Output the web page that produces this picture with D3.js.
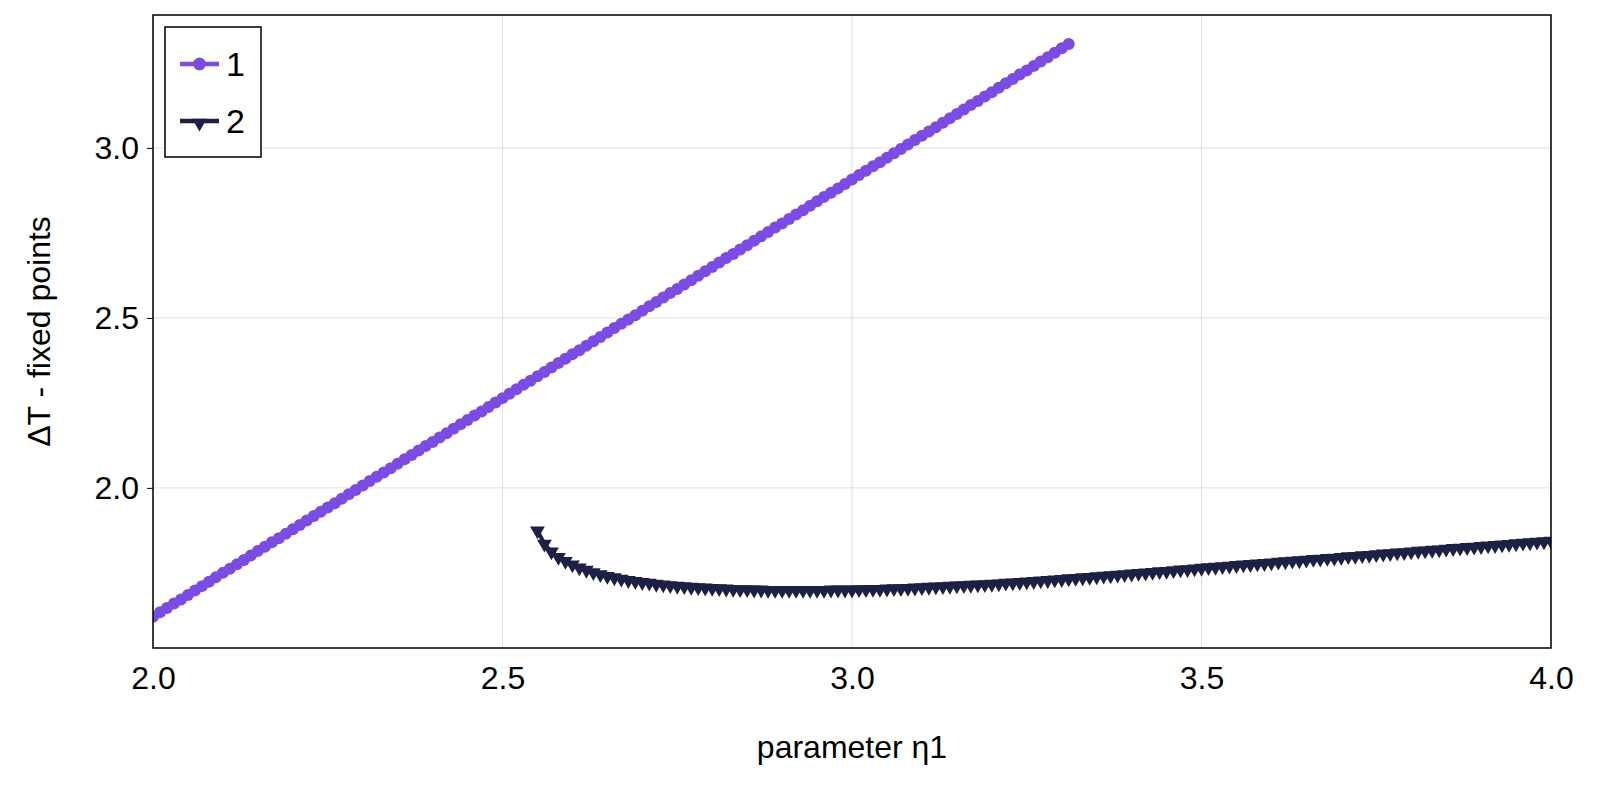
<!DOCTYPE html>
<html><head><meta charset="utf-8">
<script src="https://cdn.jsdelivr.net/npm/d3@7"></script>
<style>html,body{margin:0;padding:0;overflow:hidden;background:#fff}svg{display:block;font-family:"Liberation Sans",Arial,sans-serif}</style>
</head><body><svg id="c" width="1600" height="800"></svg>
<script>
const xTicks=[2.0,2.5,3.0,3.5,4.0];
const yTicks=[2.0,2.5,3.0];
const seriesNames=["1","2"];
const x1Start=2.00, x1Step=0.01;
const y1=[1.621,1.634,1.647,1.660,1.672,1.685,1.698,1.711,1.724,1.737,
1.750,1.762,1.775,1.788,1.801,1.814,1.827,1.840,1.852,1.865,
1.878,1.891,1.904,1.917,1.930,1.942,1.955,1.968,1.981,1.994,
2.007,2.020,2.033,2.045,2.058,2.071,2.084,2.097,2.110,2.123,
2.135,2.148,2.161,2.174,2.187,2.200,2.213,2.225,2.238,2.251,
2.264,2.277,2.290,2.303,2.315,2.328,2.341,2.354,2.367,2.380,
2.393,2.405,2.418,2.431,2.444,2.457,2.470,2.483,2.495,2.508,
2.521,2.534,2.547,2.560,2.573,2.585,2.598,2.611,2.624,2.637,
2.650,2.663,2.676,2.688,2.701,2.714,2.727,2.740,2.753,2.766,
2.778,2.791,2.804,2.817,2.830,2.843,2.856,2.868,2.881,2.894,
2.907,2.920,2.933,2.946,2.958,2.971,2.984,2.997,3.010,3.023,
3.036,3.048,3.061,3.074,3.087,3.100,3.113,3.126,3.138,3.151,
3.164,3.177,3.190,3.203,3.216,3.228,3.241,3.254,3.267,3.280,
3.293,3.306];
const x2Start=2.55, x2Step=0.01;
const y2=[1.874,1.835,1.812,1.796,1.784,1.774,1.765,1.758,1.751,1.745,
1.740,1.736,1.732,1.728,1.725,1.722,1.720,1.717,1.715,1.713,
1.711,1.710,1.708,1.707,1.706,1.705,1.704,1.703,1.702,1.701,
1.701,1.700,1.700,1.699,1.699,1.699,1.699,1.699,1.699,1.699,
1.699,1.699,1.700,1.700,1.700,1.700,
1.701,1.701,1.702,1.702,1.703,1.704,1.704,1.705,1.706,1.707,
1.708,1.709,1.710,1.711,1.712,1.713,1.714,1.715,1.716,1.717,
1.718,1.720,1.721,1.722,1.724,1.725,1.727,1.728,1.730,1.731,
1.733,1.734,1.736,1.737,1.739,1.741,1.742,1.744,1.745,1.747,
1.749,1.750,1.752,1.754,1.755,1.757,1.759,1.760,1.762,1.764,
1.766,1.767,1.769,1.770,1.772,1.774,1.775,1.777,1.778,1.780,
1.782,1.783,1.785,1.786,1.788,1.790,1.791,1.793,1.794,1.796,
1.798,1.799,1.801,1.802,1.804,1.806,1.807,1.809,1.810,1.812,
1.814,1.815,1.817,1.818,1.820,1.822,1.823,1.825,1.826,1.828,
1.830,1.831,1.833,1.834,1.836,1.838,1.839,1.841,1.842,1.844];
const colors=["#7b4ce2","#1c2045"];

const L=153,R=1551,T=15,B=648;
const svg=d3.select("#c");
const x=d3.scaleLinear().domain([2.0,4.0]).range([L,R]);
const y=d3.scaleLinear().domain([1.529,3.391]).range([B,T]);
const d1=y1.map((v,i)=>[x1Start+i*x1Step,v]);
const d2=y2.map((v,i)=>[x2Start+i*x2Step,v]);

const grid=svg.append("g").attr("stroke","#000").attr("stroke-opacity",0.12).attr("stroke-width",1);
xTicks.forEach(t=>grid.append("line").attr("x1",x(t)).attr("x2",x(t)).attr("y1",T).attr("y2",B));
yTicks.forEach(t=>grid.append("line").attr("y1",y(t)).attr("y2",y(t)).attr("x1",L).attr("x2",R));

svg.append("clipPath").attr("id","cp").append("rect").attr("x",L).attr("y",T).attr("width",R-L).attr("height",B-T);
const plot=svg.append("g").attr("clip-path","url(#cp)");
const line=d3.line().x(d=>x(d[0])).y(d=>y(d[1]));
plot.append("path").datum(d1).attr("d",line).attr("fill","none").attr("stroke",colors[0]).attr("stroke-width",4);
plot.selectAll(".c1").data(d1).join("circle").attr("cx",d=>x(d[0])).attr("cy",d=>y(d[1])).attr("r",6).attr("fill",colors[0]);
plot.append("path").datum(d2).attr("d",line).attr("fill","none").attr("stroke",colors[1]).attr("stroke-width",4);
const tri=d3.symbol().type(d3.symbolTriangle).size(95);
plot.selectAll(".t2").data(d2).join("path").attr("d",tri).attr("transform",d=>`translate(${x(d[0])},${y(d[1])}) rotate(180)`).attr("fill",colors[1]);

const xa=svg.append("g").attr("transform",`translate(0,${B})`).call(d3.axisBottom(x).tickValues(xTicks).tickFormat(d3.format(".1f")).tickSize(0).tickPadding(14));
const ya=svg.append("g").attr("transform",`translate(${L},0)`).call(d3.axisLeft(y).tickValues(yTicks).tickFormat(d3.format(".1f")).tickSize(6).tickPadding(8));
[xa,ya].forEach(a=>{a.select(".domain").remove();a.selectAll("text").attr("font-size",32).attr("fill","#000").attr("font-family","Liberation Sans, Arial");});
xa.selectAll("text").attr("dy","0.85em");
svg.append("rect").attr("x",L).attr("y",T).attr("width",R-L).attr("height",B-T).attr("fill","none").attr("stroke","#000").attr("stroke-width",1.5);

svg.append("text").attr("x",(L+R)/2).attr("y",758).attr("text-anchor","middle").attr("font-size",32).text("parameter η1");
svg.append("text").attr("transform",`translate(50,${(T+B)/2}) rotate(-90)`).attr("text-anchor","middle").attr("font-size",32).text("ΔT - fixed points");

const lg=svg.append("g");
lg.append("rect").attr("x",165).attr("y",27).attr("width",96).attr("height",130).attr("fill","#fff").attr("stroke","#000").attr("stroke-width",1.5);
seriesNames.forEach((n,i)=>{
  const cy=64+i*57;
  lg.append("line").attr("x1",180).attr("x2",219).attr("y1",cy).attr("y2",cy).attr("stroke",colors[i]).attr("stroke-width",4.5);
  if(i===0) lg.append("circle").attr("cx",199.5).attr("cy",cy).attr("r",6.5).attr("fill",colors[i]);
  else lg.append("path").attr("d",tri).attr("transform",`translate(199.5,${cy+2}) rotate(180)`).attr("fill",colors[i]);
  lg.append("text").attr("x",226).attr("y",cy+12).attr("font-size",34).text(n);
});
</script></body></html>
